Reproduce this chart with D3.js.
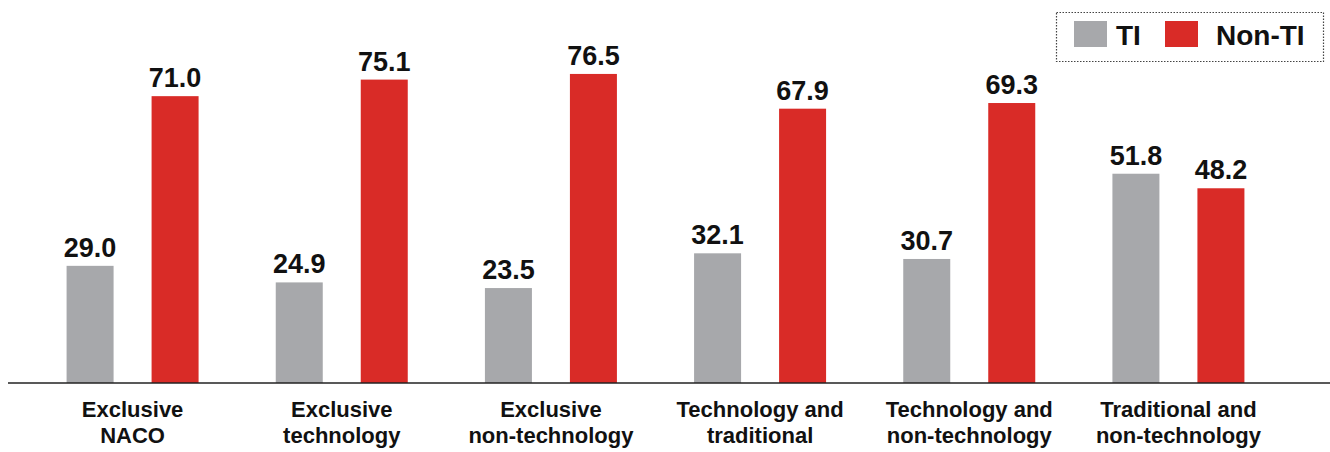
<!DOCTYPE html>
<html>
<head>
<meta charset="utf-8">
<script src="https://cdn.jsdelivr.net/npm/d3@7"></script>
<style>
  body { margin: 0; background: #fff; }
  svg text { font-family: "Liberation Sans", Arial, sans-serif; font-weight: 700; fill: #111; }
</style>
</head>
<body>
<svg id="chart" width="1330" height="452"></svg>
<script>
// --- DATOS ---
const categories = [
  ["Exclusive", "NACO"],
  ["Exclusive", "technology"],
  ["Exclusive", "non-technology"],
  ["Technology and", "traditional"],
  ["Technology and", "non-technology"],
  ["Traditional and", "non-technology"]
];
const seriesNames = ["TI", "Non-TI"];
const tiValues    = [29.0, 24.9, 23.5, 32.1, 30.7, 51.8];
const nonTiValues = [71.0, 75.1, 76.5, 67.9, 69.3, 48.2];
const COLORS = { "TI": "#a7a8ab", "Non-TI": "#d92b27" };

const svg = d3.select("#chart");
const axisY = 383;

// escala de grupos
const x0 = d3.scaleBand()
  .domain(d3.range(categories.length))
  .range([28, 1283])
  .paddingInner(0).paddingOuter(0);
const x1 = d3.scalePoint()
  .domain(seriesNames)
  .range([-42.5, 42.5]);
const y = d3.scaleLinear().domain([0, 100]).range([axisY, axisY - 404]);
const barW = 47;

const rows = categories.map((c, i) => ({ i, c, vals: [tiValues[i], nonTiValues[i]] }));

const groups = svg.selectAll("g.grp").data(rows).join("g")
  .attr("class", "grp")
  .attr("transform", d => `translate(${x0(d.i) + x0.bandwidth() / 2},0)`);

groups.selectAll("rect").data(d => d.vals.map((v, k) => ({ k, v }))).join("rect")
  .attr("x", d => x1(seriesNames[d.k]) - barW / 2)
  .attr("y", d => y(d.v))
  .attr("width", barW)
  .attr("height", d => axisY - y(d.v))
  .attr("fill", d => COLORS[seriesNames[d.k]]);

groups.selectAll("text.val").data(d => d.vals.map((v, k) => ({ k, v }))).join("text")
  .attr("class", "val")
  .attr("x", d => x1(seriesNames[d.k]))
  .attr("y", d => y(d.v) - 9)
  .attr("text-anchor", "middle")
  .style("font-size", "27px")
  .text(d => d.v.toFixed(1));

// etiquetas de categoría, dos líneas en un solo <text>
const cat = groups.append("text")
  .attr("class", "cat")
  .attr("text-anchor", "middle")
  .style("font-size", "22px");
cat.selectAll("tspan").data(d => d.c).join("tspan")
  .attr("x", 0)
  .attr("y", (d, j) => 417 + j * 26)
  .text(d => d);

// línea del eje
svg.append("line")
  .attr("x1", 8).attr("x2", 1330)
  .attr("y1", axisY).attr("y2", axisY)
  .attr("stroke", "#222").attr("stroke-width", 1.5);

// --- LEYENDA ---
const leg = svg.append("g");
leg.append("rect")
  .attr("x", 1056.5).attr("y", 12.5).attr("width", 267).attr("height", 49)
  .attr("fill", "none").attr("stroke", "#444").attr("stroke-width", 1.2)
  .attr("stroke-dasharray", "1.5,1.5");
const legX = { "TI": 1074, "Non-TI": 1165 };
seriesNames.forEach(s => {
  leg.append("rect")
    .attr("x", legX[s]).attr("y", 21).attr("width", 33).attr("height", 26)
    .attr("fill", COLORS[s]);
  leg.append("text")
    .attr("x", legX[s] + (s === "TI" ? 42 : 51)).attr("y", 45)
    .style("font-size", "28px")
    .text(s);
});
</script>
</body>
</html>
